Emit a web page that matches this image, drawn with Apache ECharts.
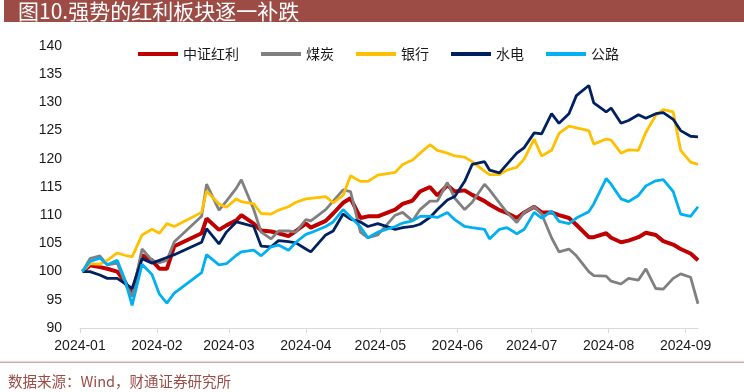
<!DOCTYPE html>
<html>
<head>
<meta charset="utf-8">
<script src="https://cdn.jsdelivr.net/npm/echarts@6/dist/echarts.min.js"></script>
<style>
html,body{margin:0;padding:0;background:#fff;}
#chart{width:744px;height:392px;}
</style>
</head>
<body>
<div id="chart"></div>
<script>
// ---- data ----
const dates = [
'2024-01-02','2024-01-05','2024-01-09','2024-01-12','2024-01-16','2024-01-19','2024-01-22','2024-01-26','2024-01-30',
'2024-02-02','2024-02-05','2024-02-08','2024-02-19','2024-02-21','2024-02-26','2024-02-29',
'2024-03-04','2024-03-06','2024-03-11','2024-03-14','2024-03-18','2024-03-21','2024-03-25','2024-03-28',
'2024-04-01','2024-04-03','2024-04-09','2024-04-12','2024-04-16','2024-04-19','2024-04-23','2024-04-26','2024-04-30',
'2024-05-07','2024-05-10','2024-05-14','2024-05-17','2024-05-21','2024-05-24','2024-05-28','2024-05-31',
'2024-06-04','2024-06-07','2024-06-12','2024-06-14','2024-06-18','2024-06-21','2024-06-25','2024-06-28',
'2024-07-02','2024-07-05','2024-07-09','2024-07-12','2024-07-16','2024-07-19','2024-07-24','2024-07-26','2024-07-31',
'2024-08-02','2024-08-06','2024-08-09','2024-08-13','2024-08-16','2024-08-20','2024-08-23','2024-08-27','2024-08-30',
'2024-09-03','2024-09-06'
];
const seriesNames = ['中证红利','煤炭','银行','水电','公路'];
const dividend = [100,101.1,100.8,100.5,100,98.3,95.8,102.9,102,100.5,100.5,104.5,106.8,109.4,107.4,108.2,
109.1,110,108.5,107.3,107.1,106.8,106.3,107.2,108.5,107.8,109,110.3,112.2,113,109.5,109.8,109.8,
111,112,112.6,114.2,115,113.5,115.3,114.2,114.4,113.6,112.5,111.9,110.9,110.4,109.5,110.5,
111.5,110.5,110.5,110,109.5,108.3,106.1,106.1,106.8,106,105.2,105.5,106.1,106.9,106.5,105.4,104.8,104,103.2,102];
const coal = [100,102.3,102.8,101.2,101.5,98.3,95.5,104,102,101.6,102,105.3,109.8,115.5,110.9,112.5,
114.8,116.3,111,107,105.8,107.2,107.2,107,109.2,109,111,112.5,114.5,114.2,107,106,106.5,
110,110.5,109,111,112.5,112.5,115.8,113,111,112.3,115.5,114.5,112.2,110.5,108.7,110.5,
111.5,110.2,106,103.5,104,102.8,100,99.3,99.2,98.3,97.8,98.8,98.5,100.5,97,96.9,98.8,99.6,99,94.3];
const bank = [100,101.4,101.3,102,103.3,102.9,102.6,106.5,107.5,106.8,108.5,108,110.5,114.3,112,111.4,
112.9,112.4,112,110.3,110.2,110.9,111.5,112.3,112.9,113,113.3,112.2,113.5,117,116,116,117.1,
117.6,119,119.8,121,122.5,121.5,121,120.5,120.3,119.5,117.8,117.2,117.2,118,118.5,120,
123.5,120.5,121.5,124.5,125.8,125.5,125,122.6,123.5,123.3,121,121.6,121.5,124.7,127.7,128.7,128.3,121.5,119.4,119];
const hydro = [100,100,99.4,98.8,98.8,97.9,97,102.3,101.5,102,102.5,103,105.2,107.6,104.9,107,
108.8,108.6,108,104.5,104.4,105.5,105.3,105.1,104,103.5,106.5,107.2,110.2,109.3,108.8,108,108.5,
107.5,107.8,108,108.4,109.6,111,112.7,113.3,116,119,119.5,118,117.5,119,121,122,
124.6,124.4,128,126.3,128,131.2,133,129.9,128.3,129,126.3,126.8,127.8,127.2,128,128.2,127,125,124,123.9];
const highway = [100,101.8,102.4,101.2,102,98.7,94,101.3,99.5,96,94.4,96.2,99.8,103,101.2,101.4,
102.9,103.5,103.8,102.8,104.4,104.7,103.8,105.2,106.6,106.9,108,108.8,111,109.7,107.9,106,107,
108,108.6,109,109.8,109.8,109.6,110.5,109.2,108,107.8,107.5,105.8,107.5,107.8,106.7,107.5,
110.5,109.5,110.7,108.9,108.5,109.5,110.6,112,116.5,115.5,112.9,112.4,113.5,115.2,116.1,116.3,114.2,110.2,109.8,111.5];
const yMin = 90, yMax = 140, yStep = 5;
const xMin = '2024-01-01', xMax = '2024-09-06';
const titleText = '图10.强势的红利板块逐一补跌';
const sourceText = '数据来源：Wind，财通证券研究所';

// ---- chart ----
const values = [dividend, coal, bank, hydro, highway];
const colors = ['#C00000','#808080','#FFC000','#002060','#00B0F0'];
const widths = [4,2.8,2.8,2.8,2.8];
const chart = echarts.init(document.getElementById('chart'));
const pad = n => (n < 10 ? '0' : '') + n;
chart.setOption({
  animation: false,
  backgroundColor: '#fff',
  textStyle: {fontFamily: '"Liberation Sans", Arial, "Noto Sans CJK SC", sans-serif'},
  graphic: [
    {type:'rect', shape:{x:4, y:0, width:740, height:22}, style:{fill:'#9C4B45'}, silent:true},
    {type:'text', x:18, y:11, style:{text:titleText, fill:'#fff', font:'21px "Noto Sans CJK SC", sans-serif', verticalAlign:'middle'}, silent:true},
    {type:'rect', shape:{x:0, y:361.5, width:744, height:1.5}, style:{fill:'#D2AAA6'}, silent:true},
    {type:'text', x:8, y:381, style:{text:sourceText, fill:'#9C4B45', font:'14.5px "Noto Sans CJK SC", sans-serif', verticalAlign:'middle'}, silent:true}
  ],
  legend: {
    left: 133, top: 42,
    itemWidth: 40, itemHeight: 4, itemGap: 22,
    icon: 'rect',
    textStyle: {fontSize: 14, color: '#1a1a1a', fontFamily: '"Noto Sans CJK SC", sans-serif'},
    data: seriesNames
  },
  grid: {left: 80, right: 46, top: 46, bottom: 64},
  xAxis: {
    type: 'time',
    min: xMin, max: xMax,
    minInterval: 28*86400000, maxInterval: 31*86400000,
    axisLine: {lineStyle: {color: '#D9D9D9', width: 1}},
    axisTick: {show: true, length: 5, lineStyle: {color: '#D9D9D9'}},
    splitLine: {show: false},
    axisLabel: {
      fontSize: 14, color: '#1a1a1a', margin: 11,
      formatter: v => { const d = new Date(v); return d.getFullYear() + '-' + pad(d.getMonth()+1); }
    }
  },
  yAxis: {
    type: 'value', min: yMin, max: yMax, interval: yStep,
    axisLine: {show: false}, axisTick: {show: false}, splitLine: {show: false},
    axisLabel: {fontSize: 14, color: '#1a1a1a', margin: 18}
  },
  series: seriesNames.map((name, i) => ({
    name, type: 'line', symbol: 'none', smooth: false,
    itemStyle: {color: colors[i]},
    lineStyle: {color: colors[i], width: widths[i]},
    data: dates.map((d, j) => [d, values[i][j]])
  }))
});
</script>
</body>
</html>
